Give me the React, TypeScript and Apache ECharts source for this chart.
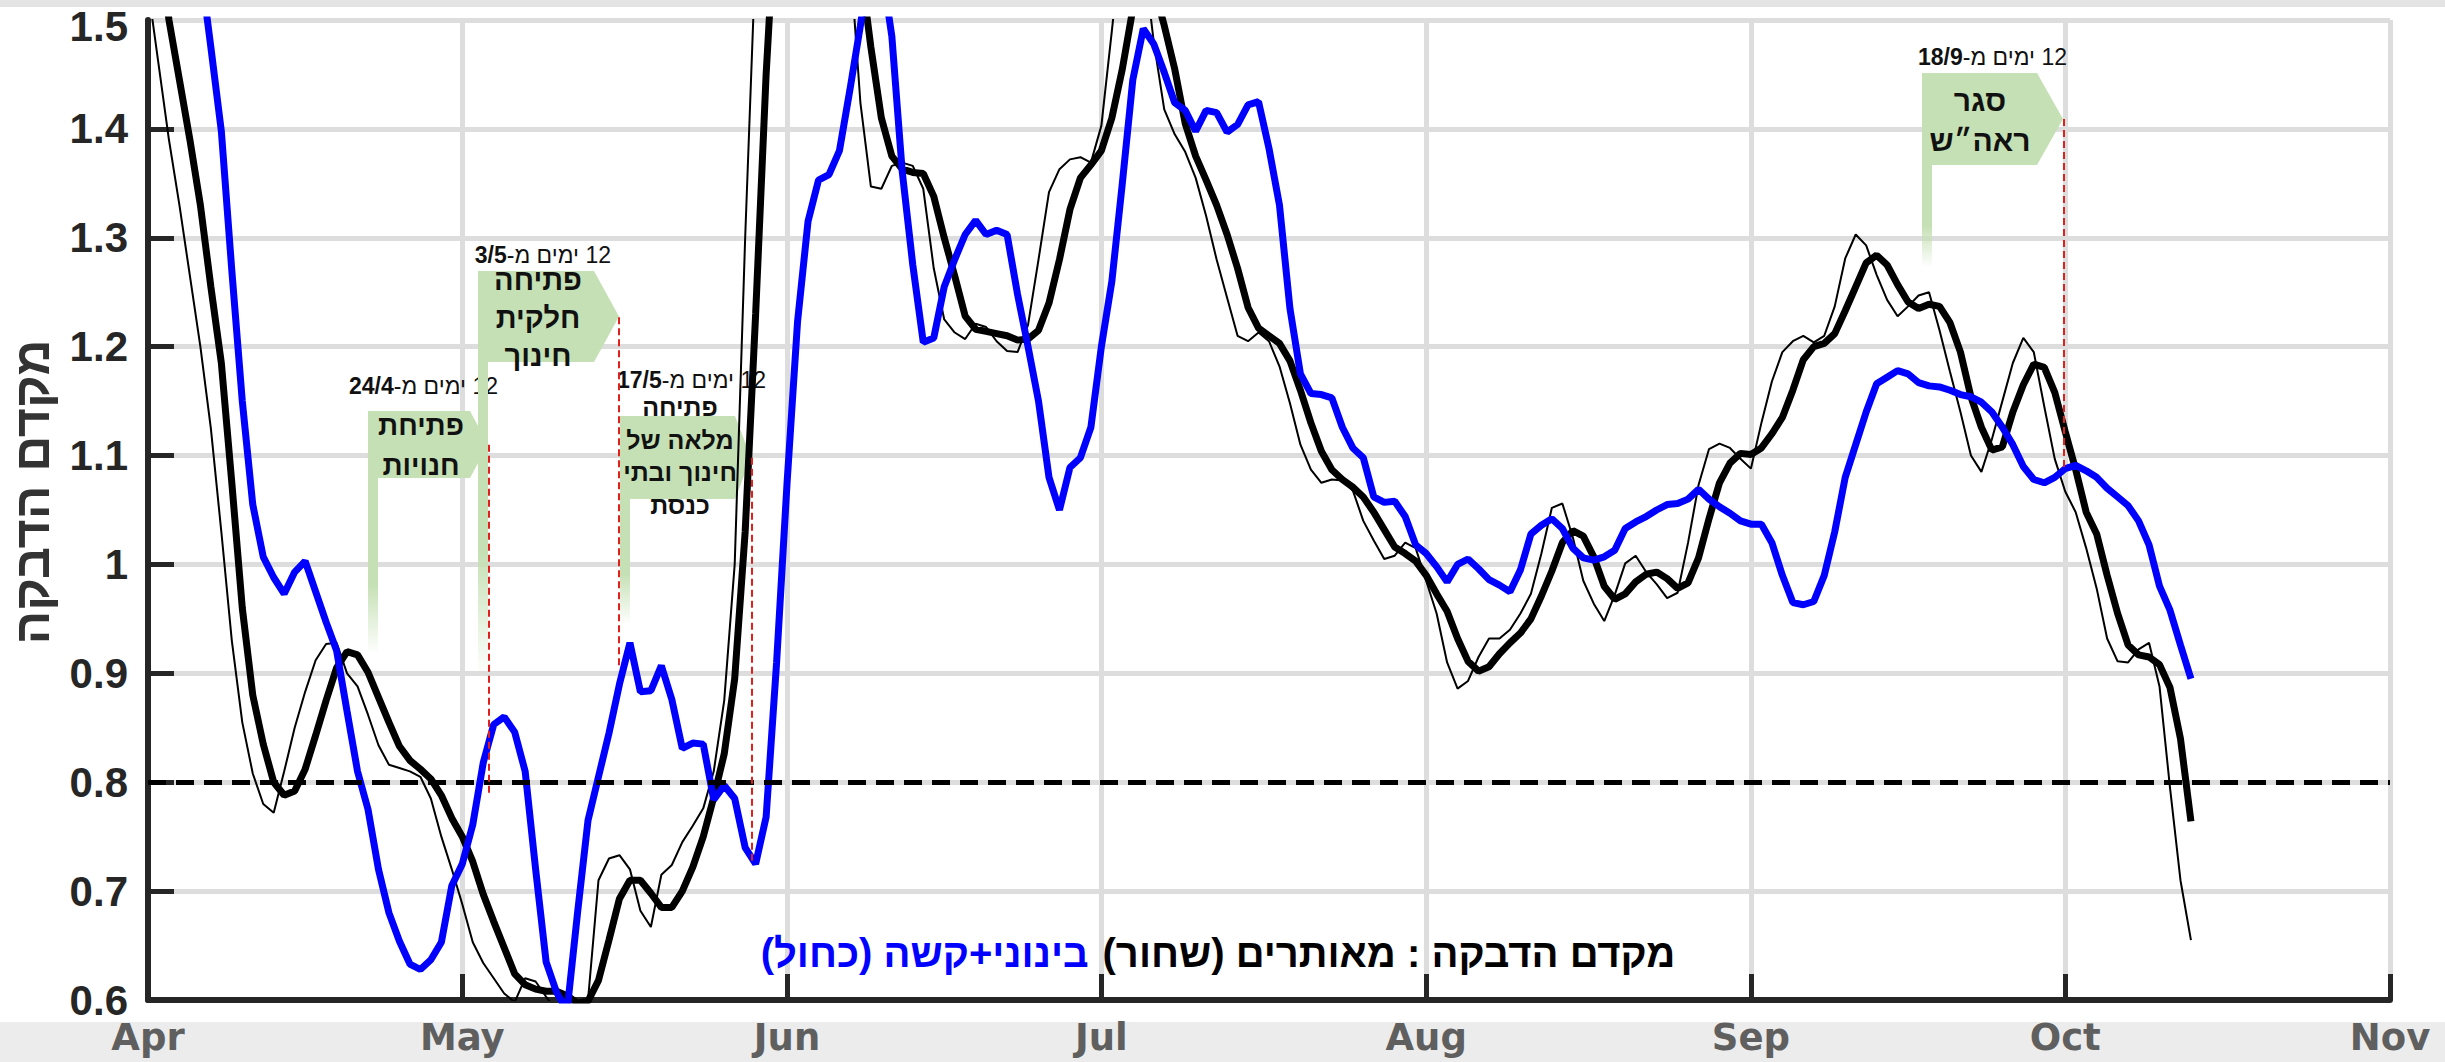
import React, { useEffect, useRef } from "react";
import * as echarts from "echarts";

// ---------- data (one value per day, starting 1 April 2020) ----------
const START_YEAR = 2020;
const START_MONTH = 3; // April (0-based)
const AXIS_END = { year: 2020, month: 10, day: 1 }; // 1 Nov

// R for detected cases, smoothed (thick black)
const R_DETECTED_SMOOTH = [
  1.65, 1.58, 1.5, 1.445, 1.39, 1.33, 1.255, 1.185, 1.075, 0.96,
  0.88, 0.835, 0.8, 0.788, 0.792, 0.812, 0.843, 0.875, 0.905, 0.92,
  0.917, 0.901, 0.878, 0.855, 0.833, 0.82, 0.812, 0.803, 0.788, 0.767,
  0.75, 0.727, 0.697, 0.672, 0.648, 0.624, 0.614, 0.61, 0.608, 0.608,
  0.604, 0.597, 0.599, 0.618, 0.655, 0.693, 0.71, 0.71, 0.698, 0.685,
  0.685, 0.7, 0.722, 0.75, 0.786, 0.826, 0.895, 1.03, 1.23, 1.45,
  1.62, 1.75, 1.82, 1.85, 1.84, 1.8, 1.72, 1.63, 1.55, 1.475,
  1.41, 1.375, 1.363, 1.36, 1.359, 1.338, 1.3, 1.265, 1.228, 1.216,
  1.214, 1.212, 1.21, 1.206, 1.207, 1.215, 1.24, 1.28, 1.326, 1.355,
  1.367, 1.38, 1.41, 1.455, 1.51, 1.54, 1.53, 1.495, 1.455, 1.405,
  1.375, 1.353, 1.33, 1.303, 1.272, 1.236, 1.217, 1.21, 1.203, 1.187,
  1.16, 1.13, 1.104, 1.087, 1.078, 1.071, 1.062, 1.048, 1.032, 1.016,
  1.01, 1.003, 0.99, 0.973, 0.957, 0.932, 0.911, 0.902, 0.906, 0.918,
  0.928, 0.937, 0.95, 0.971, 0.994, 1.02, 1.031, 1.026, 1.007, 0.98,
  0.968, 0.973, 0.984, 0.991, 0.993, 0.987, 0.978, 0.983, 1.006, 1.042,
  1.075, 1.093, 1.102, 1.101, 1.107, 1.12, 1.135, 1.16, 1.188, 1.2,
  1.203, 1.212, 1.233, 1.255, 1.277, 1.284, 1.275, 1.257, 1.241, 1.235,
  1.239, 1.237, 1.222, 1.195, 1.154, 1.126, 1.105, 1.108, 1.14, 1.165,
  1.184, 1.181, 1.158, 1.122, 1.087, 1.048, 1.028, 0.99, 0.955, 0.926,
  0.917, 0.915, 0.908, 0.887, 0.84, 0.764,
];

// R for detected cases, raw (thin black)
const R_DETECTED_RAW = [
  1.53, 1.46, 1.39, 1.33, 1.265, 1.2, 1.125, 1.03, 0.93, 0.855,
  0.808, 0.78, 0.772, 0.81, 0.85, 0.883, 0.912, 0.927, 0.928, 0.9,
  0.888, 0.862, 0.834, 0.816, 0.813, 0.81, 0.805, 0.785, 0.75, 0.72,
  0.688, 0.653, 0.634, 0.62, 0.606, 0.598, 0.62, 0.617, 0.603, 0.59,
  0.585, 0.59, 0.6, 0.71, 0.73, 0.733, 0.72, 0.682, 0.667, 0.715,
  0.724, 0.745, 0.76, 0.776, 0.81, 0.875, 1.0, 1.3, 1.56, 1.75,
  1.85, 1.9, 1.9, 1.87, 1.8, 1.72, 1.64, 1.56, 1.424, 1.347,
  1.345, 1.366, 1.369, 1.366, 1.345, 1.272, 1.225, 1.213, 1.207, 1.221,
  1.218, 1.205, 1.196, 1.195, 1.22, 1.28, 1.342, 1.363, 1.372, 1.374,
  1.369, 1.403, 1.49, 1.58, 1.62, 1.56, 1.48, 1.418, 1.395, 1.379,
  1.355, 1.32, 1.28, 1.245, 1.21, 1.205, 1.213, 1.205, 1.182, 1.148,
  1.11, 1.087, 1.075, 1.078, 1.077, 1.068, 1.04, 1.022, 1.005, 1.008,
  1.02, 1.015, 0.985, 0.955, 0.91, 0.886, 0.893, 0.915, 0.932, 0.932,
  0.94, 0.955, 0.973, 1.01, 1.052, 1.056, 1.025, 0.985, 0.964, 0.948,
  0.972, 1.001, 1.008, 0.993, 0.982, 0.969, 0.974, 1.02, 1.073, 1.106,
  1.111, 1.107, 1.097, 1.088, 1.13, 1.168, 1.195, 1.205, 1.21, 1.204,
  1.21, 1.237, 1.281, 1.303, 1.293, 1.266, 1.243, 1.228, 1.237, 1.247,
  1.25, 1.215, 1.177, 1.14, 1.1, 1.085, 1.115, 1.15, 1.185, 1.208,
  1.195, 1.145, 1.097, 1.067, 1.048, 1.015, 0.978, 0.932, 0.911, 0.91,
  0.922, 0.928, 0.888, 0.795, 0.71, 0.655,
];

// R for moderate + severe (blue)
const R_SEVERE = [
  2.0, 1.9, 1.81, 1.72, 1.63, 1.55, 1.475, 1.398, 1.27, 1.15,
  1.055, 1.007, 0.988, 0.973, 0.993, 1.003, 0.975, 0.947, 0.921, 0.865,
  0.81, 0.775, 0.72, 0.68, 0.654, 0.633, 0.628, 0.637, 0.653, 0.705,
  0.725, 0.761, 0.818, 0.853, 0.86, 0.846, 0.81, 0.72, 0.635, 0.607,
  0.59, 0.68, 0.765, 0.805, 0.845, 0.89, 0.928, 0.883, 0.884, 0.907,
  0.876, 0.831, 0.836, 0.835, 0.784, 0.797, 0.785, 0.74, 0.725, 0.768,
  0.91, 1.075, 1.223, 1.315, 1.353, 1.358, 1.38, 1.436, 1.495, 1.56,
  1.55, 1.485, 1.36, 1.275, 1.204, 1.208, 1.255, 1.28, 1.303, 1.316,
  1.303, 1.307, 1.303, 1.248, 1.2, 1.15, 1.08, 1.05, 1.089, 1.098,
  1.126, 1.2, 1.26, 1.35, 1.445, 1.492, 1.478, 1.452, 1.424, 1.417,
  1.398, 1.417, 1.415, 1.397, 1.404, 1.422, 1.425, 1.382, 1.33, 1.235,
  1.175, 1.157, 1.156, 1.153, 1.126, 1.107, 1.098, 1.062, 1.057, 1.058,
  1.044, 1.018, 1.01, 0.998, 0.984, 1.0, 1.005, 0.996, 0.986, 0.981,
  0.975, 0.995, 1.028, 1.036, 1.042, 1.033, 1.015, 1.006, 1.004, 1.007,
  1.013, 1.033, 1.039, 1.044, 1.05, 1.055, 1.056, 1.06, 1.069, 1.06,
  1.053, 1.047, 1.04, 1.037, 1.037, 1.02, 0.99, 0.965, 0.963, 0.966,
  0.99, 1.03, 1.08, 1.11, 1.14, 1.166, 1.172, 1.178, 1.175, 1.167,
  1.164, 1.163, 1.16, 1.156, 1.154, 1.149, 1.14, 1.126, 1.11, 1.09,
  1.078, 1.075, 1.08, 1.088, 1.091, 1.086, 1.08, 1.07, 1.062, 1.054,
  1.04, 1.018, 0.98, 0.958, 0.926, 0.895,
];

const Y_TICKS = [0.6, 0.7, 0.8, 0.9, 1.0, 1.1, 1.2, 1.3, 1.4, 1.5];
const THRESHOLD = 0.8;

// red "12 days after" markers: day offset from 1 April, top value, bottom value
const MARKER_DAYS = [32.55, 44.9, 57.6, 182.9];
const MARKER_TOP = [1.11, 1.227, 1.098, 1.409];
const MARKER_BOTTOM = [0.79, 0.904, 0.727, 1.0885];

// flag annotations
const FLAG_TEXTS = ["פתיחת\nחנויות", "פתיחה\nחלקית\nחינוך", "פתיחה\nמלאה של\nחינוך ובתי\nכנסת", "סגר\nראה״ש"];
const FLAG_DATES = ["24/4", "3/5", "17/5", "18/9"];
const FLAG_PREFIX = "12 ימים מ-";

const TITLE_BLACK = "מקדם הדבקה : מאותרים (שחור)";
const TITLE_BLUE = "בינוני+קשה (כחול)";
const Y_TITLE = "מקדם הדבקה";

// ---------- layout (pixels) ----------
const FLAG_LAYOUT = [
  { l: 368, t: 411, r: 470, tip: 488, b: 478, poleEnd: 655, tx: 421, ty: 445, fs: 28, lh: 40, lx: 498, ly: 386 },
  { l: 478, t: 271, r: 594, tip: 619, b: 362, poleEnd: 678, tx: 538, ty: 318, fs: 29, lh: 38, lx: 611, ly: 255 },
  { l: 620, t: 416, r: 735, tip: 751, b: 499, poleEnd: 625, tx: 680, ty: 456, fs: 25, lh: 32.5, lx: 766, ly: 380 },
  { l: 1922, t: 73, r: 2037, tip: 2063, b: 165, poleEnd: 268, tx: 1980, ty: 120, fs: 30, lh: 40, lx: 2067, ly: 57 },
];

const FONT = "'Liberation Sans', Arial, 'DejaVu Sans', sans-serif";
const MONTH_FONT = "'DejaVu Sans', 'Liberation Sans', sans-serif";
const GREEN = "#c5e0b4";
const DAY = 86400000;
const RLE = "\u202B";
const PDF = "\u202C";
const Y_LABEL_STYLE = { color: "#262626", fontSize: 42, fontWeight: "bold", fontFamily: FONT };

function dayTime(d: number) {
  return new Date(START_YEAR, START_MONTH, 1).getTime() + d * DAY;
}

function series(values: number[]) {
  return values.map((v, i) => [new Date(START_YEAR, START_MONTH, 1 + i).getTime(), v]);
}

function buildGraphics() {
  const els: any[] = [
    { type: "rect", z: -1, silent: true, shape: { x: 0, y: 0, width: 2445, height: 7 }, style: { fill: "#e4e4e4" } },
    { type: "rect", z: -1, silent: true, shape: { x: 0, y: 1022, width: 2445, height: 40 }, style: { fill: "#ececec" } },
    // top tick label (kept inside the page)
    {
      type: "text",
      z: 3,
      silent: true,
      x: 128,
      y: 26,
      style: {
        text: String(Y_TICKS[Y_TICKS.length - 1]),
        fill: Y_LABEL_STYLE.color,
        fontSize: Y_LABEL_STYLE.fontSize,
        fontWeight: "bold",
        fontFamily: FONT,
        align: "right",
        verticalAlign: "middle",
      },
    },
  ];
  FLAG_LAYOUT.forEach((f, i) => {
    els.push({
      type: "rect",
      z: 1,
      silent: true,
      shape: { x: f.l, y: f.b - 1, width: 10, height: f.poleEnd - f.b },
      style: {
        fill: new echarts.graphic.LinearGradient(0, 0, 0, 1, [
          { offset: 0, color: GREEN },
          { offset: 0.6, color: GREEN },
          { offset: 1, color: "rgba(197,224,180,0)" },
        ]),
      },
    });
    els.push({
      type: "polygon",
      z: 1,
      silent: true,
      shape: { points: [[f.l, f.t], [f.r, f.t], [f.tip, (f.t + f.b) / 2], [f.r, f.b], [f.l, f.b]] },
      style: { fill: GREEN },
    });
    els.push({
      type: "text",
      z: 1,
      silent: true,
      x: f.tx,
      y: f.ty,
      style: {
        text: FLAG_TEXTS[i],
        fontSize: f.fs,
        fontWeight: "bold",
        fontFamily: FONT,
        lineHeight: f.lh,
        fill: "#111",
        align: "center",
        verticalAlign: "middle",
      },
    });
    els.push({
      type: "text",
      z: 1,
      silent: true,
      x: f.lx,
      y: f.ly,
      style: {
        text: `{b|${FLAG_DATES[i]}}{r|${RLE}${FLAG_PREFIX}${PDF}}`,
        align: "right",
        verticalAlign: "middle",
        rich: {
          b: { fontSize: 23, fontWeight: "bold", fontFamily: FONT, fill: "#111", color: "#111" },
          r: { fontSize: 23, fontFamily: FONT, fill: "#111", color: "#111" },
        },
      },
    });
  });
  els.push({
    type: "text",
    z: 3,
    silent: true,
    x: 1218,
    y: 953,
    style: {
      text: `{bl|${RLE}${TITLE_BLUE}${PDF}}{bk|${RLE}${TITLE_BLACK}${PDF}}`,
      align: "center",
      verticalAlign: "middle",
      rich: {
        bl: { fontSize: 40, fontWeight: "bold", fontFamily: FONT, fill: "#0000ff", color: "#0000ff" },
        bk: { fontSize: 40, fontWeight: "bold", fontFamily: FONT, fill: "#000", color: "#000", padding: [0, 0, 0, 14] },
      },
    },
  });
  els.push({
    type: "text",
    z: 3,
    silent: true,
    x: 32,
    y: 492,
    rotation: Math.PI / 2,
    style: {
      text: Y_TITLE,
      fontSize: 50,
      fontWeight: "bold",
      fontFamily: FONT,
      fill: "#333",
      align: "center",
      verticalAlign: "middle",
    },
  });
  return els;
}

function buildOption() {
  const markData: any[] = [
    { yAxis: THRESHOLD, lineStyle: { color: "#000", width: 5, type: [18, 10] } },
  ];
  MARKER_DAYS.forEach((d, i) => {
    markData.push([
      { coord: [dayTime(d), MARKER_TOP[i]], lineStyle: { color: "#e0201c", width: 2, type: [7, 4] } },
      { coord: [dayTime(d), MARKER_BOTTOM[i]] },
    ]);
  });

  return {
    animation: false,
    backgroundColor: "#ffffff",
    grid: { left: 148, right: 55, top: 20, bottom: 62, containLabel: false },
    xAxis: {
      type: "time",
      min: new Date(START_YEAR, START_MONTH, 1).getTime(),
      max: new Date(AXIS_END.year, AXIS_END.month, AXIS_END.day).getTime(),
      splitNumber: 7,
      minInterval: 28 * DAY,
      maxInterval: 31 * DAY,
      axisLine: { show: true, lineStyle: { color: "#262626", width: 6 } },
      axisTick: { show: true, inside: true, length: 26, lineStyle: { color: "#262626", width: 5 } },
      axisLabel: {
        formatter: "{MMM}",
        color: "#5f5f5f",
        fontSize: 37,
        fontWeight: "bold",
        fontFamily: MONTH_FONT,
        margin: 19,
        showMinLabel: true,
        showMaxLabel: true,
        hideOverlap: false,
      },
      splitLine: { show: true, lineStyle: { color: "#dddddd", width: 5 } },
    },
    yAxis: {
      type: "value",
      min: Y_TICKS[0],
      max: Y_TICKS[Y_TICKS.length - 1],
      interval: 0.1,
      axisLine: { show: true, lineStyle: { color: "#262626", width: 6 } },
      axisTick: { show: true, inside: true, length: 26, lineStyle: { color: "#262626", width: 5 } },
      axisLabel: {
        formatter: (v: number) => String(Math.round(v * 10) / 10),
        ...Y_LABEL_STYLE,
        margin: 20,
        showMaxLabel: false,
      },
      splitLine: { show: true, lineStyle: { color: "#dddddd", width: 5 } },
    },
    graphic: { elements: buildGraphics() },
    series: [
      {
        name: "raw",
        type: "line",
        data: series(R_DETECTED_RAW),
        symbol: "none",
        silent: true,
        lineStyle: { color: "#000", width: 2 },
        markLine: {
          silent: true,
          symbol: ["none", "none"],
          label: { show: false },
          data: markData,
        },
      },
      {
        name: "smooth",
        type: "line",
        data: series(R_DETECTED_SMOOTH),
        symbol: "none",
        silent: true,
        lineStyle: { color: "#000", width: 7 },
      },
      {
        name: "severe",
        type: "line",
        data: series(R_SEVERE),
        symbol: "none",
        silent: true,
        lineStyle: { color: "#0000ff", width: 7 },
      },
    ],
  };
}

export default function App() {
  const ref = useRef<HTMLDivElement>(null);
  useEffect(() => {
    if (!ref.current) return;
    const chart = echarts.init(ref.current, null, { renderer: "svg" });
    chart.setOption(buildOption() as any);
    return () => chart.dispose();
  }, []);
  return (
    <div
      ref={ref}
      style={{ position: "fixed", left: 0, top: 0, width: 2445, height: 1062, background: "#fff" }}
    />
  );
}
